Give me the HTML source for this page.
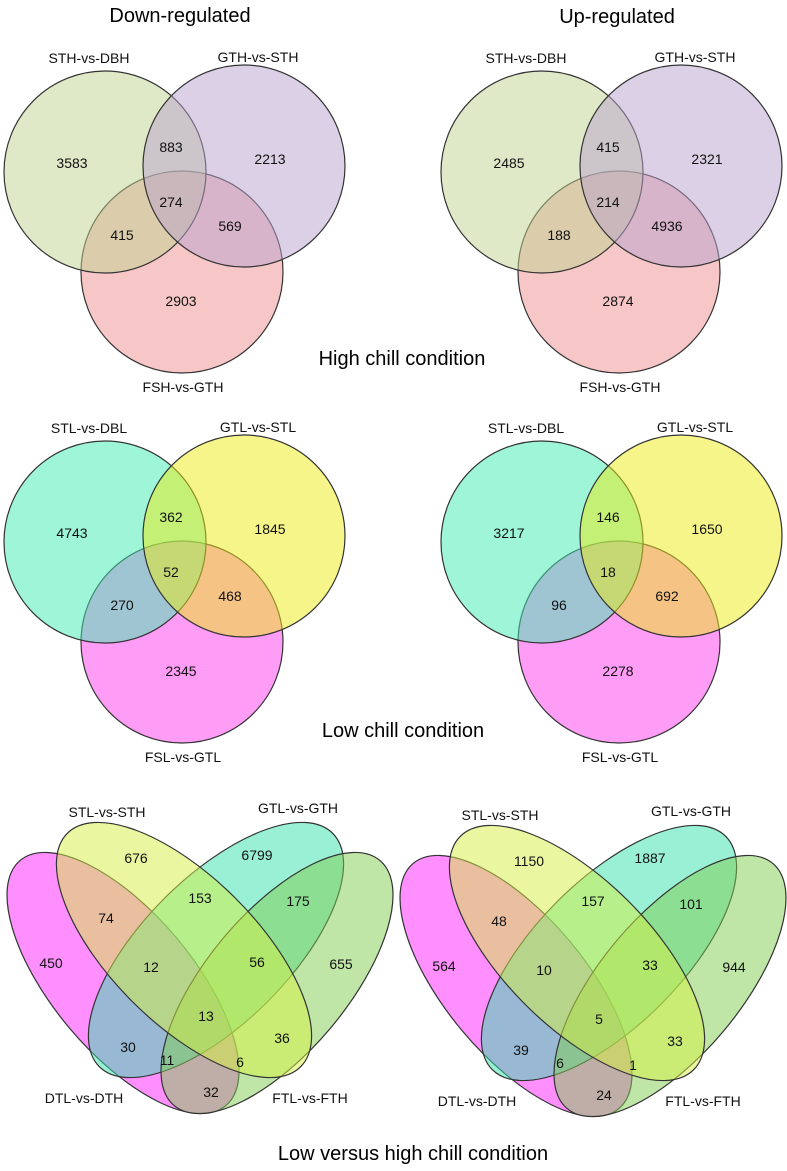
<!DOCTYPE html>
<html><head><meta charset="utf-8">
<style>
html,body{margin:0;padding:0;background:#fff;}
svg{display:block;font-family:"Liberation Sans",Arial,sans-serif;}
</style></head>
<body>
<svg id="fig" width="787" height="1171" viewBox="0 0 787 1171" xmlns="http://www.w3.org/2000/svg">
<text x="180" y="22" font-size="20" text-anchor="middle">Down-regulated</text>
<text x="617" y="23" font-size="20" text-anchor="middle">Up-regulated</text>
<text x="402" y="365" font-size="20" text-anchor="middle">High chill condition</text>
<text x="403" y="737" font-size="20" text-anchor="middle">Low chill condition</text>
<text x="413" y="1160" font-size="20" text-anchor="middle">Low versus high chill condition</text>
</svg>
<script>
// ---- data ----
const highSets = ["STH-vs-DBH", "GTH-vs-STH", "FSH-vs-GTH"];
const highDown = [3583, 883, 2213, 274, 415, 569, 2903];
const highUp = [2485, 415, 2321, 214, 188, 4936, 2874];
const lowSets = ["STL-vs-DBL", "GTL-vs-STL", "FSL-vs-GTL"];
const lowDown = [4743, 362, 1845, 52, 270, 468, 2345];
const lowUp = [3217, 146, 1650, 18, 96, 692, 2278];
const lvhSets = ["DTL-vs-DTH", "STL-vs-STH", "GTL-vs-GTH", "FTL-vs-FTH"];
const lvhDown = [676, 6799, 153, 175, 74, 450, 12, 56, 655, 13, 30, 36, 11, 6, 32];
const lvhUp = [1150, 1887, 157, 101, 48, 564, 10, 33, 944, 5, 39, 33, 6, 1, 24];

// ---- layout ----
const NS = "http://www.w3.org/2000/svg";
const svg = document.getElementById('fig');
function mk(tag, attrs, parent) {
  const e = document.createElementNS(NS, tag);
  for (const k in attrs) e.setAttribute(k, attrs[k]);
  (parent || svg).appendChild(e);
  return e;
}
const circ3 = [[105,172],[244,166],[182,272]];
const R3 = 101;
const pos3 = [[72,163],[171,147],[270,159],[171,202],[122,235],[230,226],[181,301]];
const lab3 = [[89,58],[258,57],[183,387]];

function venn3(dx, dy, sets, vals, colors, name) {
  const g = mk('g', {transform: `translate(${dx},${dy})`});
  
  
  [2, 0, 1].forEach(i => {
    const c = circ3[i];
    const e = mk('circle', {cx: c[0], cy: c[1], r: R3, fill: colors[i], 'fill-opacity': 0.5, stroke: '#333', 'stroke-width': 1.2}, g);
    
    
  });
  vals.forEach((v, i) => {
    const t = mk('text', {x: pos3[i][0], y: pos3[i][1] + 5, 'font-size': 14, 'text-anchor': 'middle', fill: '#111'}, g);
    t.textContent = v;
    
    
  });
  sets.forEach((s, i) => {
    const t = mk('text', {x: lab3[i][0], y: lab3[i][1] + 5, 'font-size': 14, 'text-anchor': 'middle', fill: '#111'}, g);
    t.textContent = s;
    
    
  });
}
const topCols = ['#c0d190', '#b9a1cd', '#ef8d8d'];
const midCols = ['#40ebb0', '#ebeb15', '#ff39eb'];
venn3(0, 0, highSets, highDown, topCols, 'venn-high-down');
venn3(437, 0, highSets, highUp, topCols, 'venn-high-up');
venn3(0, 370, lowSets, lowDown, midCols, 'venn-low-down');
venn3(437, 370, lowSets, lowUp, midCols, 'venn-low-up');

// 4-set ellipses: [cx, cy, a, b, angle]
const ell4 = [[123,983,160,70,50],[184,950,165,73,45],[216,950,165,73,-45],[277,983,160,70,-50]];
const cols4 = ['#ff20ff', '#d5ef41', '#33e1aa', '#80cd50'];
const pos4 = [[136,858],[257,855],[200,898],[298,901],[106,918],[51,963],[151,967],[257,962],[341,964],[206,1016],[128,1047],[282,1038],[167,1060],[240,1062],[211,1092]];
const lab4 = [[84,1098],[107,812],[298,808],[310,1098]];

function venn4(dx, dy, sets, vals, name) {
  const g = mk('g', {transform: `translate(${dx},${dy})`});
  
  
  [0, 2, 3, 1].forEach(i => {
    const e = ell4[i];
    const el = mk('ellipse', {cx: e[0], cy: e[1], rx: e[2], ry: e[3], transform: `rotate(${e[4]} ${e[0]} ${e[1]})`, fill: cols4[i], 'fill-opacity': 0.5, stroke: '#333', 'stroke-width': 1.2}, g);
    
    
  });
  vals.forEach((v, i) => {
    const t = mk('text', {x: pos4[i][0], y: pos4[i][1] + 5, 'font-size': 14, 'text-anchor': 'middle', fill: '#111'}, g);
    t.textContent = v;
    
    
  });
  sets.forEach((s, i) => {
    const t = mk('text', {x: lab4[i][0], y: lab4[i][1] + 5, 'font-size': 14, 'text-anchor': 'middle', fill: '#111'}, g);
    t.textContent = s;
    
    
  });
}
venn4(0, 0, lvhSets, lvhDown, 'venn-lvh-down');
venn4(393, 3, lvhSets, lvhUp, 'venn-lvh-up');
</script>
</body></html>
